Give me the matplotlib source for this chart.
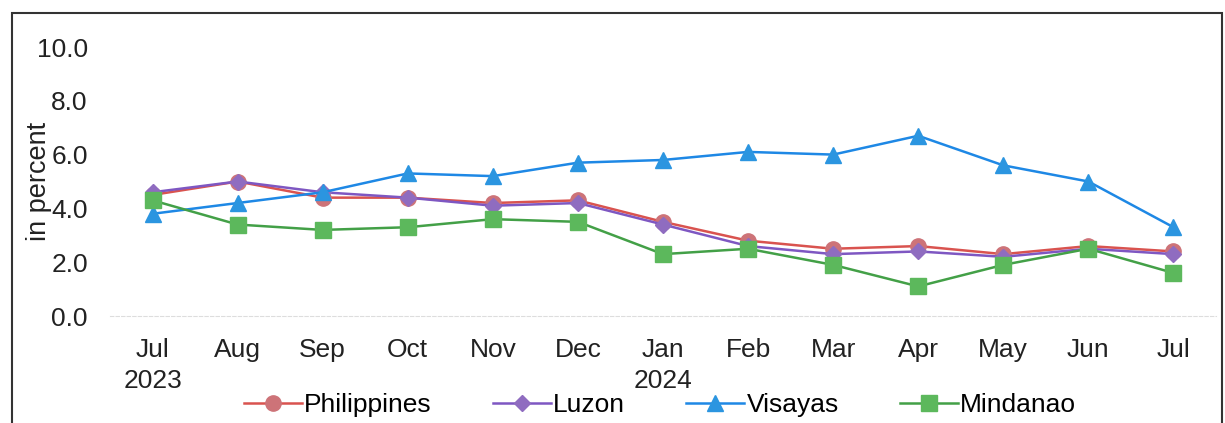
import matplotlib.pyplot as plt
from matplotlib.patches import Rectangle

plt.rcParams['font.family'] = ['Liberation Sans', 'DejaVu Sans']

# data
months = ['Jul\n2023', 'Aug', 'Sep', 'Oct', 'Nov', 'Dec', 'Jan\n2024',
          'Feb', 'Mar', 'Apr', 'May', 'Jun', 'Jul']
philippines = [4.5, 5.0, 4.4, 4.4, 4.2, 4.3, 3.5, 2.8, 2.5, 2.6, 2.3, 2.6, 2.4]
luzon = [4.6, 5.0, 4.6, 4.4, 4.1, 4.2, 3.4, 2.6, 2.3, 2.4, 2.2, 2.5, 2.3]
visayas = [3.8, 4.2, 4.6, 5.3, 5.2, 5.7, 5.8, 6.1, 6.0, 6.7, 5.6, 5.0, 3.3]
mindanao = [4.3, 3.4, 3.2, 3.3, 3.6, 3.5, 2.3, 2.5, 1.9, 1.1, 1.9, 2.5, 1.6]

fig = plt.figure(figsize=(12.25, 4.23), dpi=100)
ax = fig.add_axes([110 / 1225, 1 - 316 / 423, 1106 / 1225, 269 / 423])

x = range(len(months))
ax.plot(x, philippines, color='#D9534F', marker='o', markersize=11,
        markerfacecolor='#CD7378', markeredgecolor='#CD7378', lw=1.8, label='Philippines')
ax.plot(x, luzon, color='#7E57C2', marker='D', markersize=8,
        markerfacecolor='#8F6CC0', markeredgecolor='#8F6CC0', lw=1.8, label='Luzon')
ax.plot(x, visayas, color='#1E88E5', marker='^', markersize=11,
        markerfacecolor='#2B95E0', markeredgecolor='#2B95E0', lw=1.8, label='Visayas')
ax.plot(x, mindanao, color='#43A047', marker='s', markersize=11,
        markerfacecolor='#5CB85C', markeredgecolor='#5CB85C', lw=1.8, label='Mindanao')

ax.set_xlim(-0.5, 12.5)
ax.set_ylim(0, 10)
ax.set_yticks([0, 2, 4, 6, 8, 10])
ax.set_yticklabels([f'{v:.1f}' for v in [0, 2, 4, 6, 8, 10]])
ax.set_xticks(list(x))
ax.set_xticklabels(months, linespacing=1.35)
ax.tick_params(length=0, labelsize=19, colors='#222222')
ax.tick_params(axis='x', pad=16)
ax.tick_params(axis='y', pad=16)
ax.set_ylabel('in percent', fontsize=19.5, color='#222222', labelpad=-11)

for side in ['top', 'right', 'left']:
    ax.spines[side].set_visible(False)
ax.spines['bottom'].set_color('#DDDDDD')
ax.spines['bottom'].set_linestyle((0, (3, 2)))

leg = fig.legend(loc='center', bbox_to_anchor=(660 / 1225, 1 - 405 / 423), ncol=4,
                 frameon=False, fontsize=19, handlelength=2.2, handletextpad=0.1,
                 columnspacing=2.3, borderpad=0)

# scanned frame around the chart
fig.patches.append(Rectangle((12 / 1225, -0.05), 1210 / 1225, 1 - 13 / 423 + 0.05,
                             transform=fig.transFigure, fill=False,
                             edgecolor='#333333', lw=1.5))

fig.savefig('out.png', dpi=100, facecolor='white')
